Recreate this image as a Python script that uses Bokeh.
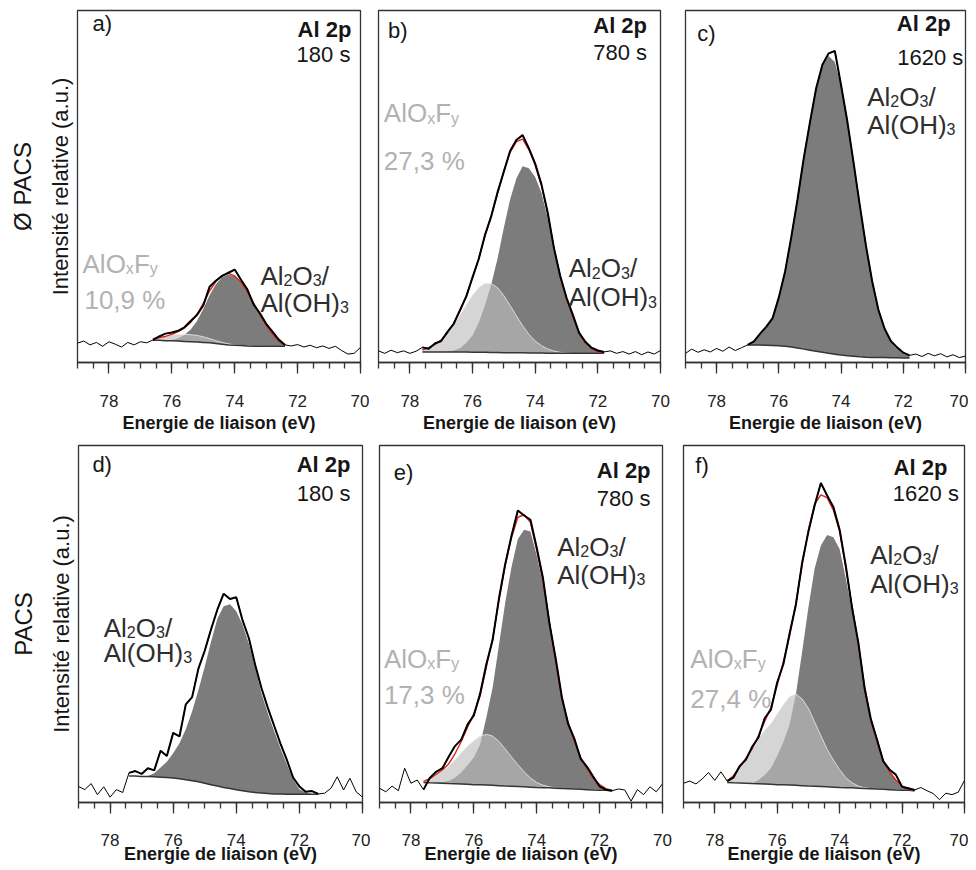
from bokeh.plotting import figure
from bokeh.models import Range1d, SingleIntervalTicker, FixedTicker, Label, LinearAxis
from bokeh.layouts import row, column
from bokeh.embed import file_html
from bokeh.resources import INLINE

FONT = "Liberation Sans"

# ---------------- data (binding energy grid, eV) ----------------
energy = [79.0, 78.8, 78.6, 78.4, 78.2, 78.0, 77.8, 77.6, 77.4, 77.2, 77.0, 76.8, 76.6, 76.4,
          76.2, 76.0, 75.8, 75.6, 75.4, 75.2, 75.0, 74.8, 74.6, 74.4, 74.2, 74.0, 73.8, 73.6,
          73.4, 73.2, 73.0, 72.8, 72.6, 72.4, 72.2, 72.0, 71.8, 71.6, 71.4, 71.2, 71.0, 70.8,
          70.6, 70.4, 70.2, 70.0]
x_ticks_major_step = 2

# a) no PACS, 180 s
a_raw = [5.5, 6.1, 5.0, 5.7, 4.6, 5.9, 5.2, 4.4, 5.7, 5.0, 5.9, 5.6, 6.4, 7.4, 8.2, 8.5, 9.0, 10.0,
         11.8, 13.5, 16.2, 21.5, 23.2, 24.6, 25.5, 26.4, 23.5, 20.8, 16.5, 14.0, 11.0, 8.8, 6.5,
         5.0, 4.7, 5.1, 4.4, 4.9, 4.2, 4.7, 4.0, 4.6, 3.4, 2.4, 2.6, 4.3]
a_fit_from = 76.6
a_bg = [6.3, 6.3, 6.2, 6.2, 6.1, 6.0, 5.9, 5.8, 5.7, 5.6, 5.4, 5.2, 5.0, 4.9, 4.8, 4.7, 4.65, 4.6,
        4.6, 4.6, 4.6, 4.6]
a_main = [0, 0, 0, 0.2, 0.8, 1.8, 3.5, 6.0, 9.5, 13.5, 16.8, 19.0, 20.0, 19.6, 18.0, 15.5, 12.2,
          9.0, 6.0, 3.5, 1.5, 0.5]
a_oxf = [0.4, 0.8, 1.2, 1.6, 1.9, 2.0, 2.0, 1.9, 1.6, 1.2, 0.8, 0.5, 0.3, 0.1, 0.05, 0, 0, 0, 0,
         0, 0, 0]

# b) no PACS, 780 s
b_raw = [3.3, 2.6, 3.5, 2.8, 3.3, 2.6, 3.2, 4.3, 3.9, 5.4, 6.1, 8.7, 11.0, 14.9, 18.7, 24.2, 29.4,
         36.3, 41.6, 48.4, 54.2, 60.1, 63.2, 64.6, 60.8, 56.5, 50.6, 42.6, 32.5, 24.6, 18.4, 13.6,
         8.5, 5.9, 4.2, 3.4, 3.0, 3.3, 2.6, 3.1, 2.4, 3.1, 2.2, 3.0, 2.4, 3.4]
b_fit_from = 77.6
b_bg = [3.0, 3.0, 3.0, 3.0, 3.0, 3.0, 2.95, 2.95, 2.9, 2.9, 2.9, 2.85, 2.85, 2.8, 2.8, 2.75, 2.75,
        2.7, 2.7, 2.7, 2.65, 2.65, 2.6, 2.6, 2.6, 2.6, 2.6, 2.6, 2.6, 2.6]
b_main = [0, 0, 0, 0, 0.1, 0.4, 1.1, 2.6, 4.8, 8.4, 13.4, 19.4, 26.7, 35.5, 43.5, 49.5, 53.0,
          52.5, 50.0, 45.5, 38.5, 29.0, 21.5, 15.5, 10.5, 5.7, 3.0, 1.4, 0.5, 0.1]
b_oxf = [0.6, 1.2, 2.1, 3.4, 5.3, 7.7, 10.5, 13.4, 16.2, 18.4, 19.6, 19.6, 18.4, 16.2, 13.4, 10.5,
         7.7, 5.3, 3.4, 2.1, 1.2, 0.6, 0.3, 0.1, 0, 0, 0, 0, 0, 0]

# c) no PACS, 1620 s
c_raw = [2.6, 3.8, 2.9, 3.6, 3.0, 4.0, 3.2, 4.4, 3.4, 4.2, 5.0, 6.0, 8.2, 10.2, 12.6, 18.5, 25.8,
         35.6, 46.3, 58.0, 68.2, 77.9, 84.6, 87.8, 88.5, 78.8, 68.6, 56.9, 44.8, 33.2, 23.1, 15.0,
         9.6, 6.1, 4.3, 2.8, 2.0, 2.4, 1.7, 2.6, 1.9, 2.5, 1.6, 2.2, 1.4, 1.8]
c_fit_from = 77.0
c_bg = [5.0, 5.0, 4.95, 4.9, 4.85, 4.75, 4.6, 4.4, 4.1, 3.8, 3.5, 3.2, 2.9, 2.6, 2.35, 2.1, 1.9,
        1.75, 1.6, 1.5, 1.45, 1.4, 1.4, 1.35, 1.35, 1.3, 1.3]
c_main = [0, 1.0, 3.0, 5.0, 8.0, 13.5, 21.0, 31.0, 42.0, 54.0, 64.5, 74.5, 81.5, 84.5, 83.0, 76.5,
          66.5, 55.0, 43.0, 31.5, 21.5, 13.5, 8.0, 4.5, 2.5, 1.2, 0.5]

# d) PACS, 180 s
d_raw = [4.5, 3.6, 5.3, 2.2, 4.4, 1.5, 3.6, 2.8, 8.3, 8.8, 8.0, 9.6, 9.0, 14.5, 13.0, 19.5, 18.5,
         27.5, 29.5, 37.5, 42.5, 48.5, 54.0, 58.5, 57.0, 57.5, 51.0, 46.0, 38.5, 32.0, 26.5, 21.5,
         16.5, 12.0, 7.0, 4.5, 3.0, 3.2, 2.4, 2.6, 4.0, 7.2, 3.5, 6.8, 3.0, 1.5]
d_fit_from = 77.4
d_bg = [7.4, 7.4, 7.3, 7.25, 7.2, 7.1, 7.0, 6.85, 6.65, 6.4, 6.1, 5.8, 5.4, 5.0, 4.6, 4.2, 3.9,
        3.6, 3.3, 3.0, 2.8, 2.65, 2.5, 2.4, 2.35, 2.3, 2.3, 2.3, 2.3, 2.3, 2.3]
d_main = [0, 0, 0, 0.15, 1.0, 2.7, 4.4, 6.95, 9.95, 14.1, 19.4, 25.7, 32.6, 40.0, 46.9, 50.8, 51.6,
          50.0, 46.5, 41.5, 34.9, 27.9, 22.5, 17.6, 12.85, 8.5, 4.2, 1.4, 0.5, 0.1, 0]

# e) PACS, 780 s
e_raw = [4.0, 3.0, 4.6, 3.3, 9.6, 5.4, 6.3, 3.6, 6.9, 8.6, 9.6, 12.8, 15.8, 17.6, 21.8, 24.4, 30.5,
         38.8, 45.6, 57.2, 66.9, 74.8, 81.8, 80.4, 79.2, 71.4, 62.8, 50.4, 40.5, 29.5, 22.0, 17.8,
         12.2, 10.0, 7.2, 4.5, 3.6, 3.3, 3.8, 3.5, 0.4, 3.6, 2.2, 4.4, 3.0, 5.2]
e_fit_from = 77.6
e_bg = [5.6, 5.5, 5.45, 5.4, 5.3, 5.25, 5.2, 5.1, 5.0, 4.95, 4.9, 4.8, 4.7, 4.6, 4.55, 4.5, 4.4,
        4.3, 4.2, 4.15, 4.1, 4.0, 3.9, 3.85, 3.8, 3.7, 3.6, 3.5, 3.45, 3.4, 3.3]
e_main = [0, 0, 0.1, 0.3, 0.7, 1.7, 3.2, 5.3, 7.6, 11.3, 19.0, 27.5, 39.5, 51.5, 61.5, 69.3, 72.0,
          71.6, 65.0, 57.0, 46.5, 35.5, 25.0, 18.5, 13.2, 8.9, 5.8, 3.2, 1.6, 0.5, 0.1]
e_oxf = [0.3, 1.2, 2.3, 3.4, 4.8, 6.7, 8.7, 10.7, 12.3, 13.6, 14.2, 13.8, 12.4, 10.4, 8.2, 6.1, 4.2,
         2.6, 1.4, 0.7, 0.3, 0.1, 0, 0, 0, 0, 0, 0, 0, 0, 0]

# f) PACS, 1620 s
f_raw = [5.4, 6.0, 5.2, 6.6, 8.4, 6.2, 8.6, 6.0, 7.0, 10.2, 12.0, 15.6, 18.2, 23.6, 26.0, 33.6,
         38.8, 47.4, 55.4, 67.2, 75.8, 83.2, 89.5, 86.0, 82.8, 76.4, 66.2, 54.4, 44.8, 32.0, 23.4,
         17.6, 11.5, 9.2, 7.8, 4.4, 4.0, 3.5, 4.2, 3.3, 2.5, 0.8, 2.6, 2.2, 2.9, 6.2]
f_fit_from = 77.6
f_bg = [5.6, 5.5, 5.45, 5.4, 5.3, 5.25, 5.2, 5.1, 5.0, 4.95, 4.9, 4.8, 4.7, 4.6, 4.55, 4.5, 4.4,
        4.3, 4.2, 4.15, 4.1, 4.0, 3.9, 3.85, 3.8, 3.7, 3.6, 3.5, 3.45, 3.4, 3.3]
f_main = [0, 0, 0, 0, 0.2, 1.0, 2.5, 4.5, 8.0, 12.0, 17.0, 25.5, 37.5, 50.0, 61.0, 67.5, 70.5,
          70.0, 66.8, 58.6, 49.5, 39.5, 28.5, 19.0, 13.3, 8.0, 5.0, 2.8, 1.2, 0.3, 0]
f_oxf = [0.5, 2.0, 4.5, 7.0, 9.5, 12.5, 15.0, 17.0, 19.8, 22.5, 24.8, 25.6, 24.3, 21.8, 18.0, 14.2,
         10.5, 7.6, 5.0, 2.8, 1.4, 0.6, 0.2, 0, 0, 0, 0, 0, 0, 0, 0]

panel_letters = ["a)", "b)", "c)", "d)", "e)", "f)"]
times = ["180 s", "780 s", "1620 s", "180 s", "780 s", "1620 s"]
oxf_percent = ["10,9 %", "27,3 %", None, None, "17,3 %", "27,4 %"]
row_names = ["Ø PACS", "PACS"]

# ---------------- styling helpers ----------------
DARK = "#7c7c7c"
LIGHT = "#bdbdbd"
RED = "#e3201b"
TXT = "#161616"
COMP_TXT = "#2e2e2e"
OXF_TXT = "#b2b2b2"
LIFT = 8.0  # px correction of the text baseline

W = {'A': 0.667, 'l': 0.222, 'O': 0.778, 'x': 0.5, 'F': 0.611, 'y': 0.5, '2': 0.556,
     '3': 0.556, '/': 0.278, '(': 0.333, ')': 0.333, 'H': 0.722}


def rich(p, x, vc, parts, size, color, fh):
    px = 100.0 / fh
    base = vc - (0.36 * size - LIFT) * px
    off = 0.0
    for s, sub in parts:
        fs = size * 0.62 if sub else size
        b = base - (0.17 * size * px if sub else 0.0)
        p.add_layout(Label(x=x, y=b, x_offset=off, text=s, text_font=FONT,
                           text_font_size=f"{fs:.1f}px", text_color=color,
                           text_align="left", text_baseline="alphabetic"))
        off += sum(W[c] for c in s) * fs


def plain(p, x, vc, s, size, color, fh, align="left", bold=False):
    base = vc - (0.36 * size - LIFT) * 100.0 / fh
    p.add_layout(Label(x=x, y=base, text=s, text_font=FONT, text_font_size=f"{size}px",
                       text_color=color, text_align=align, text_baseline="alphabetic",
                       text_font_style="bold" if bold else "normal"))


def side_axis(p, text, size, standoff):
    ax = LinearAxis(ticker=FixedTicker(ticks=[]), axis_label=text)
    ax.axis_line_color = None
    ax.major_tick_line_color = None
    ax.minor_tick_line_color = None
    ax.major_tick_out = 0
    ax.minor_tick_out = 0
    ax.major_label_standoff = 0
    ax.axis_label_standoff = standoff
    ax.axis_label_text_font = FONT
    ax.axis_label_text_font_size = f"{size}px"
    ax.axis_label_text_font_style = "normal"
    ax.axis_label_text_color = TXT
    p.add_layout(ax, "left")


def make_panel(width, height, mbl, mbr, mbt, mbb, tick_standoff, lab_standoff, raw, fit_from,
               bg, main, oxf, show_red, side=None):
    p = figure(width=width, height=height, x_range=Range1d(79, 70), y_range=Range1d(0, 100),
               output_backend="svg", toolbar_location=None, y_axis_location=None,
               min_border_left=mbl, min_border_right=mbr, min_border_top=mbt,
               min_border_bottom=mbb)
    p.grid.visible = False
    p.outline_line_color = "#333333"
    p.outline_line_width = 1.3
    p.background_fill_color = "white"
    p.border_fill_color = "white"

    ax = p.xaxis[0]
    ax.ticker = SingleIntervalTicker(interval=x_ticks_major_step, num_minor_ticks=4)
    ax.axis_label = "Energie de liaison (eV)"
    ax.axis_label_text_font = FONT
    ax.axis_label_text_font_size = "18px"
    ax.axis_label_text_font_style = "bold"
    ax.axis_label_text_color = TXT
    ax.axis_label_standoff = lab_standoff
    ax.major_label_text_font = FONT
    ax.major_label_text_font_size = "17px"
    ax.major_label_text_color = "#222222"
    ax.major_label_standoff = tick_standoff
    ax.major_tick_out = 11
    ax.major_tick_in = 0
    ax.minor_tick_out = 6
    ax.minor_tick_in = 0
    for a in ("axis_line", "major_tick_line", "minor_tick_line"):
        setattr(ax, a + "_color", "#333333")
        setattr(ax, a + "_width", 1.3)

    if side is not None:
        side_axis(p, "Intensité relative (a.u.)", 22, 5)
        side_axis(p, side, 24, 9)

    i0 = [round(e, 1) for e in energy].index(round(fit_from, 1))
    n = len(bg)
    ef = energy[i0:i0 + n]
    top_main = [b + m for b, m in zip(bg, main)]
    p.varea(x=ef, y1=bg, y2=top_main, fill_color=DARK)
    if oxf is not None:
        top_ox = [b + o for b, o in zip(bg, oxf)]
        p.varea(x=ef, y1=bg, y2=top_ox, fill_color=LIGHT, fill_alpha=0.64)
        p.line(ef, top_ox, line_color="#eeeeee", line_width=1, line_alpha=0.8)
    p.line(ef, bg, line_color="#353535", line_width=1.5)
    if show_red:
        env = [b + m + (o if oxf is not None else 0) for b, m, o in
               zip(bg, main, oxf if oxf is not None else [0] * n)]
        p.line(ef, env, line_color=RED, line_width=1.4)
    p.line(energy, raw, line_color="black", line_width=1)
    p.line(energy[i0:i0 + n], raw[i0:i0 + n], line_color="black", line_width=2)
    return p


# ---------------- panels (page origin at 0,0) ----------------
pa = make_panel(369, 440, 77, 9, 6, 73, 21, 3, a_raw, a_fit_from, a_bg, a_main, a_oxf, True,
                side=row_names[0])
pb = make_panel(303, 440, 9, 12, 10, 76, 21, 3, b_raw, b_fit_from, b_bg, b_main, b_oxf, True)
pc = make_panel(296, 440, 13, 3, 10, 78, 21, 3, c_raw, c_fit_from, c_bg, c_main, None, False)
pd = make_panel(370, 430, 78, 8, 3, 68, 20, -5, d_raw, d_fit_from, d_bg, d_main, None, False,
                side=row_names[1])
pe = make_panel(303, 430, 9, 11, 5, 68, 20, -5, e_raw, e_fit_from, e_bg, e_main, e_oxf, True)
pf = make_panel(295, 430, 10, 4, 5, 68, 20, -5, f_raw, f_fit_from, f_bg, f_main, f_oxf, True)

AL2O3 = [("Al", 0), ("2", 1), ("O", 0), ("3", 1), ("/", 0)]
ALOH3 = [("Al(OH)", 0), ("3", 1)]
ALOXFY = [("AlO", 0), ("x", 1), ("F", 0), ("y", 1)]

# (panel, frame height, letter pos, "Al 2p" pos, time pos, Al2O3 pos, Al(OH)3 pos, AlOxFy pos, % pos)
specs = [
    (pa, 361, (78.52, 96.4), (70.29, 94.7), (70.32, 87.4), (73.18, 24.9), (73.18, 17.3),
     (78.84, 28.5), (78.78, 18.2)),
    (pb, 354, (78.70, 94.4), (70.43, 95.8), (70.43, 88.1), (72.93, 27.1), (72.93, 18.9),
     (78.83, 71.2), (78.83, 57.6)),
    (pc, 352, (78.62, 93.5), (70.48, 96.3), (70.07, 86.5), (73.16, 75.9), (73.16, 67.9),
     None, None),
    (pd, 359, (78.56, 94.7), (70.38, 94.7), (70.38, 86.4), (78.20, 49.3), (78.20, 42.3),
     None, None),
    (pe, 357, (78.55, 92.5), (70.38, 93.0), (70.38, 85.1), (73.35, 72.0), (73.35, 64.1),
     (78.86, 40.7), (78.86, 30.4)),
    (pf, 357, (78.62, 94.4), (70.55, 93.9), (70.18, 86.5), (73.02, 69.7), (73.02, 61.7),
     (78.78, 40.7), (78.78, 29.5)),
]

for k, (p, fh, let, alp, tim, al1, al2, ox1, ox2) in enumerate(specs):
    plain(p, let[0], let[1], panel_letters[k], 22, TXT, fh)
    plain(p, alp[0], alp[1], "Al 2p", 22, TXT, fh, align="right", bold=True)
    plain(p, tim[0], tim[1], times[k], 22, TXT, fh, align="right")
    rich(p, al1[0], al1[1], AL2O3, 26, COMP_TXT, fh)
    rich(p, al2[0], al2[1], ALOH3, 26, COMP_TXT, fh)
    if ox1 is not None:
        rich(p, ox1[0], ox1[1], ALOXFY, 26, OXF_TXT, fh)
        plain(p, ox2[0], ox2[1], oxf_percent[k], 26, OXF_TXT, fh)

layout = column(row(pa, pb, pc), row(pd, pe, pf))

open("out.html", "w").write(file_html(layout, INLINE))
